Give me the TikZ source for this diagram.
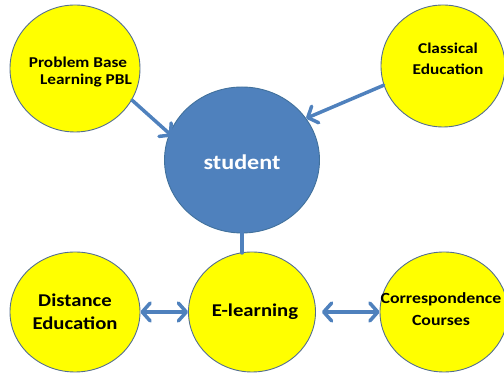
\documentclass[tikz,border=0pt]{standalone}
\usepackage{fontspec}
\setmainfont{Carlito}[FakeStretch=1.15]
\usetikzlibrary{arrows.meta,shapes.geometric}
\definecolor{linkblue}{RGB}{79,129,189}
\definecolor{hubfill}{RGB}{79,129,189}
\definecolor{hubedge}{RGB}{65,113,156}
\definecolor{topicfill}{RGB}{255,255,0}
\definecolor{topicedge}{RGB}{84,110,145}
\tikzset{
  topic/.style={ellipse, draw=topicedge, line width=0.9pt, fill=topicfill, inner sep=0pt},
  hub/.style={ellipse, draw=hubedge, line width=0.9pt, fill=hubfill, inner sep=0pt},
  label/.style={font=\bfseries, text=black, inner sep=0pt},
  barb/.tip={Straight Barb[length=8pt, width=18pt, round]},
  link/.style={draw=linkblue, line width=3.5pt, line cap=round, -{barb}},
  twoway/.style={draw=linkblue, line width=3.5pt, {barb}-{barb}}
}
\begin{document}
\begin{tikzpicture}[x=1pt, y=1pt]
\useasboundingbox (0,0) rectangle (504,374);

% circles
\node[topic, minimum width=130pt, minimum height=127pt] (pbl) at (75,305.5) {};
\node[topic, minimum width=124pt, minimum height=122pt] (classic) at (443,308) {};
\node[hub, minimum width=155pt, minimum height=146pt] (student) at (242,214) {};
\node[topic, minimum width=130pt, minimum height=120pt] (distance) at (75,62) {};
\node[topic, minimum width=127pt, minimum height=120pt] (elearn) at (252,62) {};
\node[topic, minimum width=128pt, minimum height=120pt] (corresp) at (444,62) {};

% texts
\node[label, font=\bfseries\fontsize{15}{19}\selectfont] (pbltexta) at (78,312) {Problem Base};
\node[label, font=\bfseries\fontsize{15}{19}\selectfont] (pbltextb) at (86,293) {Learning PBL};
\node[label, align=center, font=\bfseries\fontsize{15}{21}\selectfont] (classictext) at (448,315) {Classical\\Education};
\node[label, text=white, font=\bfseries\fontsize{21}{25}\selectfont] (studenttext) at (242,212) {student};
\node[label, align=center, font=\bfseries\fontsize{18}{23}\selectfont] (distancetext) at (75,62.5) {Distance\\Education};
\node[label, font=\bfseries\fontsize{18}{22}\selectfont] (elearntext) at (255,62) {E-learning};
\node[label, align=center, font=\bfseries\fontsize{15.5}{22}\selectfont] (corresptext) at (441,65) {Correspondence\\Courses};

% connectors
\draw[link, shorten >=-4pt] (pbl.-29) -- (student.160);
\draw[link] (classic.198) -- (student.33);
\coordinate (riser) at (242,121);
\draw[link, shorten >=-13pt] (riser) -- (student.south);
\draw[twoway] (distance.east) -- (elearn.west);
\draw[twoway, shorten <=6pt] (elearn.east) -- (corresp.west);
\end{tikzpicture}
\end{document}
